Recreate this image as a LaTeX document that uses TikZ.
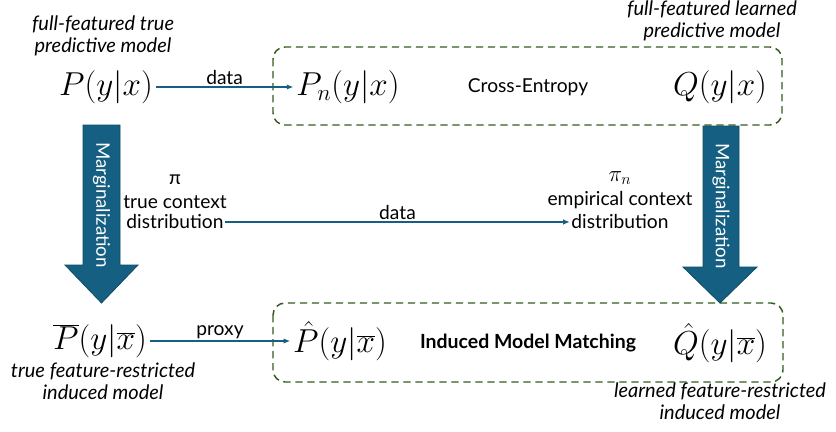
\documentclass[tikz,border=0pt]{standalone}
\usepackage{fontspec}
\setsansfont{Lato}
\usetikzlibrary{arrows.meta}

\definecolor{arrowblue}{HTML}{156082}
\definecolor{arrowedge}{HTML}{0E4A66}
\definecolor{boxgreen}{HTML}{2F5C1D}

\begin{document}
\begin{tikzpicture}[x=0.75pt, y=-0.75pt,
  model/.style={inner sep=2pt, font=\fontsize{27}{32}\selectfont},
  caption/.style={align=center, font=\sffamily\itshape\fontsize{15}{16.8}\selectfont},
  plain/.style={inner sep=1pt, font=\sffamily\fontsize{14.4}{16.5}\selectfont},
  link/.style={draw=arrowblue, line width=0.9pt, -{Latex[length=5pt,width=4pt]}},
  groupbox/.style={draw=boxgreen, line width=1.1pt, dash pattern=on 5.5pt off 3.5pt, rounded corners=9pt},
  bigarrow/.style={fill=arrowblue, draw=arrowedge, line width=0.6pt},
  marg/.style={text=white, rotate=-90, font=\sffamily\fontsize{14}{16}\selectfont}]
\useasboundingbox (0,0) rectangle (836,432);
% Dashed groups
\draw[groupbox] (273,47) rectangle (782,125);
\draw[groupbox] (273,303) rectangle (783,382);
% Top row
\node[model] (P) at (106,87) {$P(y|x)$};
\node[model] (Pn) at (348,87) {$P_n(y|x)$};
\node[plain] (ce) at (528,87) {Cross-Entropy};
\node[model] (Q) at (720,87) {$Q(y|x)$};
\node[caption] (Pcap) at (103,36) {full-featured true\\predictive model};
\node[caption] (Qcap) at (712,21) {full-featured learned\\predictive model};
\draw[link] (P) -- (Pn) node[plain, midway, above] {data};
% Marginalization arrows
\filldraw[bigarrow] (83,125) -- (120,125) -- (120,265) -- (138,265) -- (101.5,303) -- (65,265) -- (83,265) -- cycle;
\node[marg] (margL) at (101.5,205) {Marginalization};
\filldraw[bigarrow] (703,126) -- (739,126) -- (739,267) -- (757,267) -- (720,303) -- (683,267) -- (703,267) -- cycle;
\node[marg] (margR) at (721,206) {Marginalization};
% Context distributions
\node[plain] (piT) at (175,180) {π};
\node[plain] (ctxT) at (175,202) {true context};
\node[plain] (distT) at (175,222) {distribution};
\node[plain] (piE) at (620,178) {\fontsize{17}{20}\selectfont$\pi_n$};
\node[plain] (ctxE) at (620,200) {empirical context};
\node[plain] (distE) at (620,222) {distribution};
\draw[link] (distT) -- (distE) node[plain, midway, above] {data};
% Bottom row
\node[model] (Pbar) at (100,341) {$\overline{P}(y|\overline{x})$};
\node[model] (Phat) at (340,341) {$\hat{P}(y|\overline{x})$};
\node[plain, font=\sffamily\bfseries\fontsize{14.6}{16.5}\selectfont] (imm) at (528,343) {Induced Model Matching};
\node[model] (Qhat) at (720,343) {$\hat{Q}(y|\overline{x})$};
\node[caption] (Pbarcap) at (103,381) {true feature-restricted\\induced model};
\node[caption] (Qhatcap) at (720,401) {learned feature-restricted\\induced model};
\draw[link] (Pbar) -- (Phat) node[plain, midway, above] {proxy};
\end{tikzpicture}
\end{document}
